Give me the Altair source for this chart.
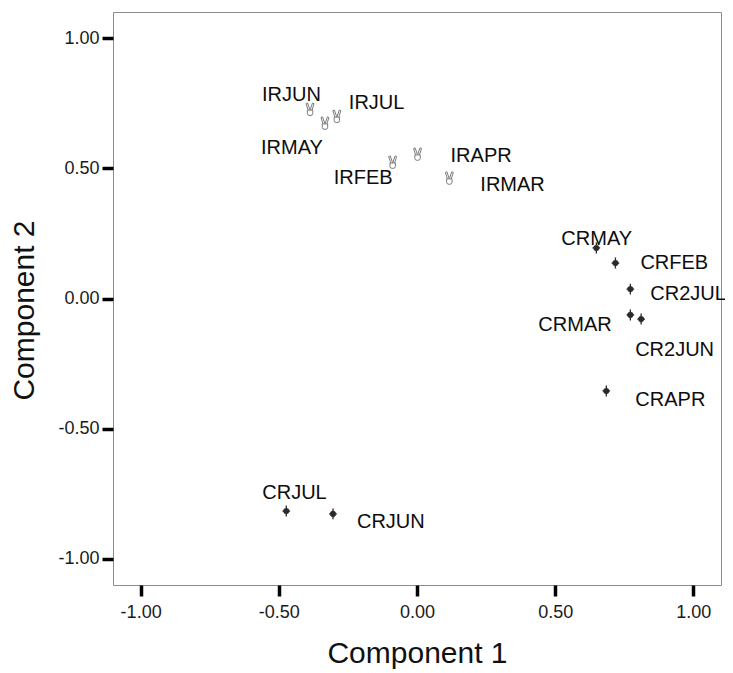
import altair as alt
import pandas as pd

# ---- data ----
names = ["IRJUN", "IRMAY", "IRJUL", "IRFEB", "IRAPR", "IRMAR",
         "CRMAY", "CRFEB", "CR2JUL", "CRMAR", "CR2JUN", "CRAPR",
         "CRJUL", "CRJUN"]
comp1 = [-0.387, -0.333, -0.290, -0.088, 0.002, 0.117,
         0.649, 0.718, 0.772, 0.772, 0.811, 0.685,
         -0.473, -0.304]
comp2 = [0.727, 0.674, 0.700, 0.524, 0.555, 0.463,
         0.194, 0.136, 0.036, -0.063, -0.079, -0.355,
         -0.816, -0.827]
group = ["IR"] * 6 + ["CR"] * 8

x_ticks = [-1.0, -0.5, 0.0, 0.5, 1.0]
y_ticks = [-1.0, -0.5, 0.0, 0.5, 1.0]

df = pd.DataFrame({"name": names, "c1": comp1, "c2": comp2, "group": group})

# label placement (pixel offsets of each label's left/middle from its point)
label_offset = {
    "IRJUN": (-48, -14), "IRMAY": (-64, 25), "IRJUL": (12, -13),
    "IRFEB": (-59, 16), "IRAPR": (33, 2), "IRMAR": (31, 7),
    "CRMAY": (-35, -9), "CRFEB": (25, 0), "CR2JUL": (20, 5),
    "CRMAR": (-92, 10), "CR2JUN": (-6, 31), "CRAPR": (29, 9),
    "CRJUL": (-24, -18), "CRJUN": (24, 8),
}

FONT = "Liberation Sans"
lbl_expr = "(datum.value < 0 ? '-' : '') + format(abs(datum.value), '.2f')"

# outline "victory hand" marker (two raised fingers over a palm)
HAND = ("M-0.42,0.15 L0.42,0.15 L0.42,0.7 Q0.42,1 0,1 Q-0.42,1 -0.42,0.7 Z "
        "M-0.3,0.15 L-0.62,-0.85 L-0.38,-0.95 L-0.02,0.1 "
        "M0.3,0.15 L0.62,-0.85 L0.38,-0.95 L0.02,0.1")

xs = alt.Scale(domain=[-1.1, 1.1], nice=False, zero=False)
ys = alt.Scale(domain=[-1.1, 1.1], nice=False, zero=False)

base = alt.Chart(df)

X = alt.X("c1:Q", scale=xs, title="Component 1",
          axis=alt.Axis(values=x_ticks, labelExpr=lbl_expr, titlePadding=17,
                        labelPadding=7))
Y = alt.Y("c2:Q", scale=ys, title="Component 2",
          axis=alt.Axis(values=y_ticks, labelExpr=lbl_expr, titlePadding=18,
                        labelPadding=3, titleY=298))

ir_pts = base.transform_filter(alt.datum.group == "IR").mark_point(
    shape=HAND, size=165, filled=False, stroke="#7a7a7a", strokeWidth=1,
    opacity=1
).encode(x=X, y=Y)

cr_cross = base.transform_filter(alt.datum.group == "CR").mark_point(
    shape="M0,-1L0,1M-0.7,0L0.7,0", size=120, filled=False,
    stroke="#2a2a2a", strokeWidth=1.3, opacity=1
).encode(x="c1:Q", y="c2:Q")

cr_dot = base.transform_filter(alt.datum.group == "CR").mark_point(
    shape="circle", size=32, filled=True, fill="#2a2a2a", stroke="#2a2a2a",
    strokeWidth=0.5, opacity=1
).encode(x="c1:Q", y="c2:Q")

label_layers = []
for n in names:
    dx, dy = label_offset[n]
    label_layers.append(
        base.transform_filter(alt.datum.name == n).mark_text(
            font=FONT, fontSize=20, color="#0d0d0d", align="left",
            baseline="middle", dx=dx, dy=dy
        ).encode(x="c1:Q", y="c2:Q", text="name:N")
    )

chart = alt.layer(ir_pts, cr_cross, cr_dot, *label_layers).properties(
    width=608, height=573,
    autosize=alt.AutoSizeParams(type="none"),
    padding={"left": 105, "top": 4, "right": 4, "bottom": 88},
    background="white",
).configure_view(
    stroke="#8c8c8c", strokeWidth=1, fill="white"
).configure_axis(
    grid=False, domain=False,
    tickColor="#000000", tickWidth=3.5, tickSize=11,
    labelFont=FONT, labelFontSize=18, labelColor="#1a1a1a",
    titleFont=FONT, titleFontSize=30, titleFontWeight="normal",
    titleColor="#111111",
)

chart.save("out.html", embed_options={"renderer": "svg", "actions": False})
